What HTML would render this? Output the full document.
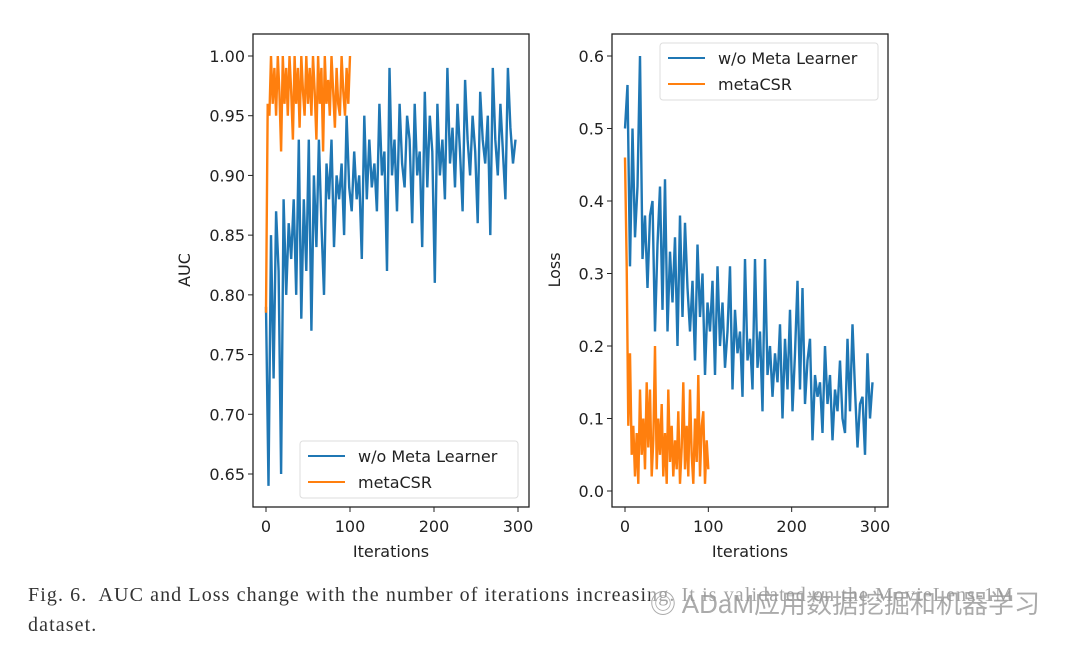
<!DOCTYPE html>
<html><head><meta charset="utf-8"><style>
body{margin:0;background:#fff;width:1080px;height:652px;overflow:hidden;position:relative}
svg{position:absolute;left:0;top:0}
.cap{position:absolute;left:28px;font-family:"Liberation Serif",serif;font-size:20px;letter-spacing:1.1px;color:#333;white-space:nowrap}
</style></head><body>
<svg id="chart" width="1080" height="652"></svg>
<div class="cap" style="top:584px">Fig. 6.&nbsp; AUC and Loss change with the number of iterations increasing. It is validated on the MovieLens-1M</div>
<div class="cap" style="top:614px">dataset.</div>
<div style="position:absolute;left:650px;top:584px;font-family:'Liberation Sans','Noto Sans CJK SC',sans-serif;font-size:26px;color:rgba(150,150,150,0.8);background:rgba(255,255,255,0.55)">◎ ADaM应用数据挖掘和机器学习</div>
<script>
const aucBlue=[0.79,0.64,0.85,0.73,0.87,0.82,0.65,0.88,0.80,0.86,0.83,0.88,0.80,0.93,0.78,0.88,0.82,0.93,0.77,0.90,0.84,0.93,0.86,0.80,0.91,0.88,0.93,0.84,0.90,0.88,0.91,0.85,0.95,0.89,0.87,0.92,0.88,0.90,0.83,0.95,0.88,0.93,0.89,0.91,0.87,0.96,0.90,0.92,0.82,0.99,0.90,0.93,0.87,0.96,0.91,0.89,0.95,0.93,0.86,0.96,0.90,0.92,0.84,0.97,0.89,0.95,0.92,0.81,0.96,0.90,0.93,0.88,0.99,0.91,0.94,0.89,0.96,0.92,0.87,0.98,0.93,0.90,0.95,0.92,0.86,0.97,0.93,0.91,0.95,0.85,0.99,0.93,0.90,0.96,0.92,0.88,0.99,0.94,0.91,0.93];
const aucOrange=[0.785,0.96,0.95,1.0,0.96,0.99,0.95,1.0,0.97,0.92,1.0,0.96,0.99,0.95,1.0,0.97,0.93,1.0,0.96,0.99,0.94,1.0,0.97,0.95,1.0,0.96,0.99,0.95,1.0,0.97,0.93,1.0,0.96,0.99,0.92,1.0,0.96,0.98,0.95,1.0,0.97,0.94,0.99,0.96,0.95,1.0,0.97,0.95,0.99,0.96,1.0];
const lossBlue=[0.50,0.56,0.31,0.50,0.35,0.42,0.60,0.32,0.38,0.28,0.38,0.40,0.22,0.34,0.42,0.25,0.43,0.22,0.33,0.26,0.35,0.20,0.38,0.24,0.37,0.28,0.22,0.29,0.18,0.34,0.24,0.30,0.16,0.26,0.22,0.29,0.16,0.31,0.20,0.26,0.17,0.22,0.31,0.14,0.25,0.19,0.22,0.13,0.32,0.18,0.21,0.14,0.32,0.17,0.22,0.11,0.32,0.16,0.20,0.13,0.19,0.15,0.23,0.10,0.21,0.14,0.25,0.11,0.19,0.29,0.14,0.28,0.12,0.18,0.21,0.07,0.16,0.13,0.15,0.08,0.20,0.12,0.16,0.07,0.14,0.11,0.18,0.10,0.08,0.21,0.11,0.23,0.14,0.06,0.12,0.13,0.05,0.19,0.10,0.15];
const lossOrange=[0.46,0.31,0.09,0.19,0.05,0.09,0.02,0.08,0.01,0.14,0.05,0.10,0.03,0.15,0.06,0.14,0.02,0.07,0.20,0.03,0.10,0.05,0.12,0.02,0.08,0.01,0.14,0.04,0.09,0.02,0.07,0.03,0.11,0.01,0.06,0.15,0.03,0.09,0.02,0.14,0.05,0.01,0.10,0.04,0.16,0.02,0.09,0.11,0.01,0.07,0.03];
const blueMaxIter=297, orangeMaxIter=100;
const xTicks=[0,100,200,300];
const aucTicks=[0.65,0.70,0.75,0.80,0.85,0.90,0.95,1.00];
const lossTicks=[0.0,0.1,0.2,0.3,0.4,0.5,0.6];
const legendLabels=["w/o Meta Learner","metaCSR"];
const NS="http://www.w3.org/2000/svg";
const svg=document.getElementById('chart');
function mk(t,a,p){const e=document.createElementNS(NS,t);for(const k in a)e.setAttribute(k,a[k]);(p||svg).appendChild(e);return e;}
const F='"DejaVu Sans","Liberation Sans",sans-serif';
function panel(o){
  const g=mk('g',{});
  
  
  const xs=v=>o.x0+(v-0)*(o.x300-o.x0)/300;
  const ys=v=>o.yA+(v-o.vA)*(o.yB-o.yA)/(o.vB-o.vA);
  const series=[[o.blue,blueMaxIter,'#1f77b4','series-w-o-meta-learner'],[o.orange,orangeMaxIter,'#ff7f0e','series-metacsr']];
  series.forEach(s=>{
    const n=s[0].length;
    const pts=s[0].map((v,i)=>xs(i*s[1]/(n-1)).toFixed(1)+','+ys(v).toFixed(1)).join(' ');
    const pl=mk('polyline',{points:pts,fill:'none',stroke:s[2],'stroke-width':2.4,'stroke-linejoin':'miter'},g);
    
    
  });
  const fr=mk('rect',{x:o.L,y:34,width:o.R-o.L,height:473,fill:'none',stroke:'#222','stroke-width':1.3},g);
  
  
  xTicks.forEach(t=>{const x=xs(t);mk('line',{x1:x,x2:x,y1:507,y2:512,stroke:'#222'},g);
    const tx=mk('text',{x:x,y:532,'text-anchor':'middle','font-family':F,'font-size':16,fill:'#222'},g);tx.textContent=t;
    });
  o.ticks.forEach(t=>{const y=ys(t);mk('line',{x1:o.L-5,x2:o.L,y1:y,y2:y,stroke:'#222'},g);
    const tx=mk('text',{x:o.L-8,y:y+6,'text-anchor':'end','font-family':F,'font-size':16,fill:'#222'},g);tx.textContent=t.toFixed(o.dec);
    });
  const xl=mk('text',{x:(o.L+o.R)/2,y:557,'text-anchor':'middle','font-family':F,'font-size':16,fill:'#222'},g);xl.textContent='Iterations';
  
  const yl=mk('text',{x:0,y:0,transform:`translate(${o.ylx},270) rotate(-90)`,'text-anchor':'middle','font-family':F,'font-size':16,fill:'#222'},g);yl.textContent=o.ylabel;
  
  const lg=mk('g',{},g);
  
  
  mk('rect',{x:o.lx,y:o.ly,width:218,height:57,rx:3,fill:'#fff','fill-opacity':0.85,stroke:'#ddd'},lg);
  legendLabels.forEach((lab,i)=>{const y=o.ly+15+i*26;
    mk('line',{x1:o.lx+8,x2:o.lx+45,y1:y,y2:y,stroke:i?'#ff7f0e':'#1f77b4','stroke-width':2},lg);
    const t=mk('text',{x:o.lx+58,y:y+6,'font-family':F,'font-size':16,fill:'#222'},lg);t.textContent=lab;
    });
}
panel({name:'auc-chart',L:253,R:529,x0:266,x300:518,yA:56,vA:1.0,yB:474,vB:0.65,blue:aucBlue,orange:aucOrange,ticks:aucTicks,dec:2,ylabel:'AUC',ylx:190,lx:300,ly:441});
panel({name:'loss-chart',L:612,R:888,x0:625,x300:875,yA:491,vA:0.0,yB:56,vB:0.6,blue:lossBlue,orange:lossOrange,ticks:lossTicks,dec:1,ylabel:'Loss',ylx:560,lx:660,ly:43});
</script>
</body></html>
